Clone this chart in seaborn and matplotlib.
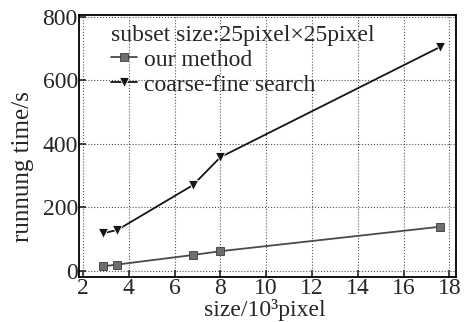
import matplotlib
matplotlib.use("Agg")
import matplotlib.pyplot as plt
import seaborn as sns
import pandas as pd

sizes = [2.85, 3.5, 6.8, 8.0, 17.6]
our_method = [14, 20, 50, 62, 139]
coarse_fine = [118, 129, 270, 358, 705]
series_names = ["our method", "coarse-fine search"]
x_ticks = [2, 4, 6, 8, 10, 12, 14, 16, 18]
y_ticks = [0, 200, 400, 600, 800]

sns.set_theme(style="ticks")
plt.rcParams["font.family"] = ["Liberation Serif", "DejaVu Serif"]

df = pd.DataFrame({
    "size": sizes * 2,
    "time": our_method + coarse_fine,
    "method": [series_names[0]] * len(sizes) + [series_names[1]] * len(sizes),
})

fig = plt.figure(figsize=(4.66, 3.22), dpi=100)
ax = fig.add_axes([0.170, 0.140, 0.809, 0.813])

sns.lineplot(data=df, x="size", y="time", hue="method", style="method",
             markers={series_names[0]: "s", series_names[1]: "v"},
             dashes=False,
             palette={series_names[0]: "#4a4a4a", series_names[1]: "#151515"},
             markersize=6, linewidth=1.3, markeredgewidth=0.6,
             legend=False, ax=ax)
sq_line, tri_line = ax.lines[0], ax.lines[1]
sq_line.set_markerfacecolor("#6e6e6e")
sq_line.set_markeredgecolor("#3a3a3a")
tri_line.set_markersize(7.5)

ax.set_xlim(1.83, 18.3)
ax.set_ylim(-19, 805)
ax.set_xticks(x_ticks)
ax.set_yticks(y_ticks)
ax.grid(True, linestyle=":", color="#555555", linewidth=0.8)
ax.tick_params(direction="in", labelsize=17, length=5, width=1.2, pad=1)
for s in ax.spines.values():
    s.set_linewidth(1.3)
    s.set_color("black")
ax.set_xlabel("size/10³pixel", fontsize=17)
ax.xaxis.set_label_coords(0.493, -0.085)
ax.set_ylabel("runnung time/s", fontsize=18)
ax.yaxis.set_label_coords(-0.12, 0.42)

leg = ax.legend(handles=[sq_line, tri_line], labels=series_names,
                title="subset size:25pixel×25pixel", loc="upper left",
                bbox_to_anchor=(0.06, 1.0),
                frameon=False, fontsize=17, title_fontsize=17,
                handlelength=1.1, handletextpad=0.3, borderaxespad=0.0,
                labelspacing=0.15, alignment="left")

fig.savefig("out.png", dpi=100)
